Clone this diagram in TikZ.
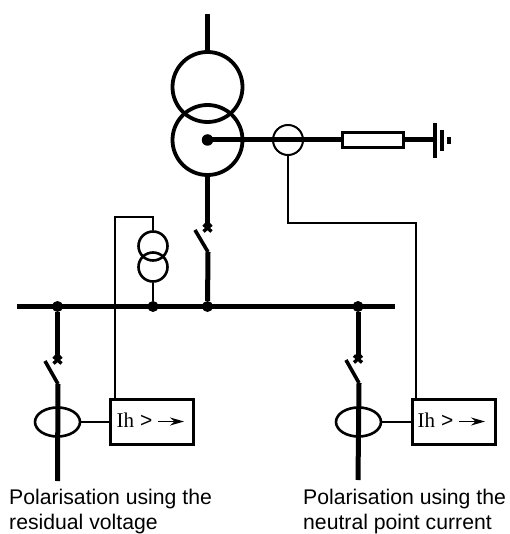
\documentclass[tikz,border=0pt]{standalone}
\usepackage{fontspec}
\setmainfont{Liberation Sans}
\newfontfamily\serifface{Liberation Serif}
\usetikzlibrary{arrows.meta,shapes.geometric}
\tikzset{
  x=1pt,y=-1pt,
  thickline/.style={line width=5pt,line cap=butt},
  wire/.style={line width=2pt,line join=miter},
  winding/.style={circle,draw,line width=3.8pt,minimum size=70pt,inner sep=0pt},
  vtwinding/.style={circle,draw,line width=2.6pt,minimum size=29pt,inner sep=0pt},
  ctcircle/.style={circle,draw,line width=2pt,minimum size=30pt,inner sep=0pt},
  ctoval/.style={ellipse,draw,line width=2.6pt,minimum width=45pt,minimum height=29pt,inner sep=0pt},
  joint/.style={circle,fill=black,draw=none,minimum size=11pt,inner sep=0pt},
  bigjoint/.style={circle,fill=black,draw=none,minimum size=11.5pt,inner sep=0pt},
  relay/.style={rectangle,draw,line width=2.2pt,minimum width=83pt,minimum height=45pt,inner sep=0pt},
  res/.style={rectangle,draw,fill=white,line width=2.2pt,minimum width=61pt,minimum height=15pt,inner sep=0pt},
  blade/.style={line width=3.6pt},
  crossmark/.style={line width=3.4pt},
  caption/.style={anchor=base west,font=\fontsize{21.2pt}{24pt}\selectfont,inner sep=0pt},
  relaytext/.style={anchor=base west,font=\fontsize{21pt}{24pt}\selectfont,inner sep=0pt},
  direction/.style={line width=1.4pt,-{Stealth[length=14pt,width=8pt]}},
}
\begin{document}
\begin{tikzpicture}
\useasboundingbox (0,0) rectangle (509,534);
% transformer
\node[winding] (tu) at (207.5,87) {};
\node[winding] (tl) at (207.5,140) {};
\coordinate (top) at (207.5,14);
\draw[thickline] (top) -- (tu.north);
\node[bigjoint] (star) at (207.5,140) {};
% neutral
\node[res] (r) at (373,140) {};
\coordinate (e1) at (435,140);
\draw[thickline] (star.center) -- (r.west);
\draw[thickline] (r.east) -- (e1);
\coordinate (e1t) at (435,123);\coordinate (e1b) at (435,158);
\coordinate (e2t) at (441.7,130);\coordinate (e2b) at (441.7,151);
\coordinate (e3t) at (449,137);\coordinate (e3b) at (449,144);
\draw[line width=4pt] (e1t) -- (e1b);
\draw[line width=3.6pt] (e2t) -- (e2b);
\draw[line width=3.6pt] (e3t) -- (e3b);
\node[ctcircle] (ct) at (288,140) {};
% busbar
\coordinate (bl) at (17,306.5);\coordinate (br) at (395,306.5);
\draw[line width=5.4pt] (bl) -- (br);
\node[joint] (j1) at (57.5,306.5) {};
\node[joint] (j2) at (153,306.5) {};
\node[joint] (j3) at (207.5,306.5) {};
\node[joint] (j4) at (358,306.5) {};
% incomer
\coordinate (c0) at (207.5,228);
\coordinate (s0) at (208,252);
\coordinate (b0) at (195,230);
\draw[thickline] (tl.south) -- (c0);
\draw[blade] (b0) -- (s0);
\draw[thickline] (s0) -- (j3);
\draw[crossmark] (203.5,224.5) -- (211.5,231.5);
\draw[crossmark] (211.5,224.5) -- (203.5,231.5);
% VT
\node[vtwinding] (vu) at (153,246) {};
\node[vtwinding] (vl) at (153,267) {};
\draw[wire] (vl.south) -- (j2);
% left feeder
\coordinate (c1) at (57.5,360);
\coordinate (s1) at (58,384);
\coordinate (b1) at (45,361);
\coordinate (f1) at (57.5,481);
\draw[thickline] (j1) -- (c1);
\draw[blade] (b1) -- (s1);
\draw[thickline] (s1) -- (f1);
\draw[crossmark] (53.5,356.5) -- (61.5,363.5);
\draw[crossmark] (61.5,356.5) -- (53.5,363.5);
\node[ctoval] (o1) at (57.5,422) {};
\node[relay] (k1) at (152,422) {};
\draw[wire] (o1.east) -- (k1.west);
% right feeder
\coordinate (c2) at (358,359);
\coordinate (s2) at (359,383);
\coordinate (b2) at (346,360);
\coordinate (f2) at (358,480);
\draw[thickline] (j4) -- (c2);
\draw[blade] (b2) -- (s2);
\draw[thickline] (s2) -- (f2);
\draw[crossmark] (354,355.5) -- (362,362.5);
\draw[crossmark] (362,355.5) -- (354,362.5);
\node[ctoval] (o2) at (358.5,422) {};
\node[relay] (k2) at (454,422) {};
\draw[wire] (o2.east) -- (k2.west);
% secondary wiring
\coordinate (w1) at (153,217);\coordinate (w2) at (115,217);\coordinate (w3) at (115,399);
\draw[wire] (vu.north) -- (w1) -- (w2) -- (w3);
\coordinate (w4) at (288,223);\coordinate (w5) at (416,223);\coordinate (w6) at (416,399);
\draw[wire] (ct.south) -- (w4) -- (w5) -- (w6);
% relay labels
\node[relaytext] (t1) at (116.5,427) {{\serifface Ih} >};
\coordinate (a1s) at (158,421.5);\coordinate (a1e) at (184,421.5);
\draw[direction] (a1s) -- (a1e);
\node[relaytext] (t2) at (417.5,427) {{\serifface Ih} >};
\coordinate (a2s) at (459,421.5);\coordinate (a2e) at (485,421.5);
\draw[direction] (a2s) -- (a2e);
% captions
\node[caption] (p1) at (9,504) {Polarisation using the};
\node[caption] (p2) at (9,529.5) {residual voltage};
\node[caption] (p3) at (303,504) {Polarisation using the};
\node[caption] (p4) at (303,529.5) {neutral point current};
\end{tikzpicture}
\end{document}
